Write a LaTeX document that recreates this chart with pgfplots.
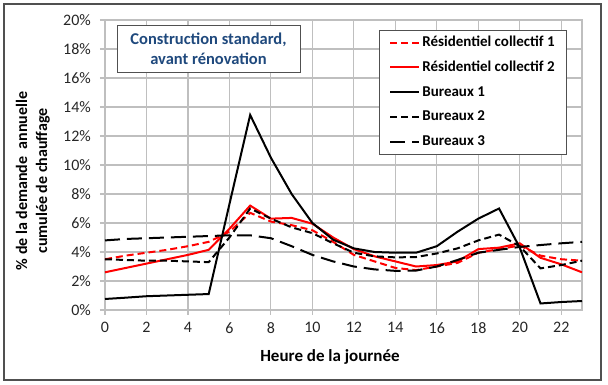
\documentclass[border=0pt]{standalone}
\usepackage{fontspec}
\setmainfont{Carlito}
\usepackage{pgfplots}
\pgfplotsset{compat=1.18}
\definecolor{gridgray}{RGB}{191,191,191}
\definecolor{navy}{RGB}{31,73,125}
\definecolor{framegray}{RGB}{80,80,80}
\definecolor{myred}{RGB}{255,0,0}

\pgfplotstableread{
h r1 r2 b1 b2 b3
0 3.5 2.6 0.76 3.5 4.8
1 3.75 2.9 0.85 3.45 4.9
2 3.95 3.2 0.95 3.4 4.95
3 4.15 3.5 1.0 3.4 5.0
4 4.4 3.8 1.05 3.35 5.05
5 4.7 4.15 1.1 3.3 5.1
6 5.4 5.6 7.3 5.0 5.15
7 6.7 7.2 13.45 7.0 5.15
8 6.1 6.3 10.5 6.3 4.95
9 5.85 6.35 8.0 5.7 4.4
10 5.5 5.95 6.0 5.3 3.8
11 4.7 5.0 4.85 4.6 3.35
12 3.8 4.2 4.25 3.95 3.0
13 3.35 3.7 4.0 3.7 2.8
14 2.9 3.35 3.95 3.63 2.7
15 2.75 3.0 3.95 3.65 2.72
16 3.0 3.1 4.4 3.9 3.0
17 3.25 3.35 5.4 4.25 3.45
18 3.95 4.2 6.3 4.8 3.95
19 4.2 4.3 7.0 5.2 4.15
20 4.45 4.6 4.3 4.4 4.35
21 3.75 3.6 0.45 2.87 4.48
22 3.5 3.15 0.55 3.1 4.6
23 3.4 2.6 0.62 3.4 4.7
}\data

\begin{document}
\fontsize{15}{18}\selectfont
\begin{tikzpicture}
\begin{axis}[
  name=ax,
  scale only axis, width=477pt, height=290pt,
  xmin=0, xmax=23, ymin=0, ymax=20,
  xtick={0,2,...,22}, ytick={0,2,...,20},
  yticklabels={0\%,2\%,4\%,6\%,8\%,10\%,12\%,14\%,16\%,18\%,20\%},
  /pgf/number format/assume math mode=true,
  grid=major,
  major grid style={gridgray, line width=1.1pt},
  axis line style={gridgray, line width=1.1pt},
  tick style={gridgray, line width=1.1pt},
  tick align=outside, major tick length=5pt, tick pos=left,
  ticklabel style={text=black!85, font=\fontsize{16}{19}\selectfont},
  xticklabel style={yshift=-2pt},
  yticklabel style={xshift=-4pt},
  xlabel={Heure de la journée},
  xlabel style={at={(axis description cs:0.4717,-0.162)}, anchor=center, font=\bfseries\fontsize{17}{20}\selectfont},
  ylabel={\% de la demande\ \ annuelle\\cumulée de chauffage},
  ylabel style={at={(axis description cs:-0.151,0.445)}, anchor=center, align=center, font=\bfseries\fontsize{16}{20}\selectfont},
  legend style={at={(axis description cs:0.5744,0.9655)}, anchor=north west,
    draw=framegray, line width=0.8pt, fill=white,
    font=\bfseries\fontsize{15}{18}\selectfont,
    nodes={inner sep=2pt, text height=11pt, text depth=3.5pt},
    row sep=6.3pt, inner xsep=10pt, inner ysep=3pt,
    cells={anchor=west}},
  legend image code/.code={\draw[line width=2pt,#1] (0pt,0pt) -- (29pt,0pt);},
]
\addplot[draw=myred, line width=2pt, dash pattern=on 7pt off 4pt] table[x=h,y=r1]{\data};
\addlegendentry{Résidentiel collectif 1}
\addplot[draw=myred, line width=2pt, solid] table[x=h,y=r2]{\data};
\addlegendentry{Résidentiel collectif 2}
\addplot[draw=black, line width=2pt, solid] table[x=h,y=b1]{\data};
\addlegendentry{Bureaux 1}
\addplot[draw=black, line width=2pt, dash pattern=on 7pt off 4pt] table[x=h,y=b2]{\data};
\addlegendentry{Bureaux 2}
\addplot[draw=black, line width=2pt, dash pattern=on 15pt off 7pt] table[x=h,y=b3]{\data};
\addlegendentry{Bureaux 3}
\node[draw=framegray, line width=0.8pt, fill=white, text=navy, align=center,
  font=\bfseries\fontsize{16.5}{20}\selectfont, minimum width=183pt, minimum height=47pt, inner sep=0pt]
  at (axis description cs:0.217,0.9017) {Construction standard,\\avant rénovation};
\end{axis}
\draw[framegray, line width=1.5pt] ([shift={(-101pt,-70pt)}]ax.south west) rectangle ([shift={(19pt,306pt)}]ax.south east);
\path ([shift={(-105pt,-75pt)}]ax.south west) rectangle ([shift={(503pt,310pt)}]ax.south west);
\end{tikzpicture}
\end{document}
